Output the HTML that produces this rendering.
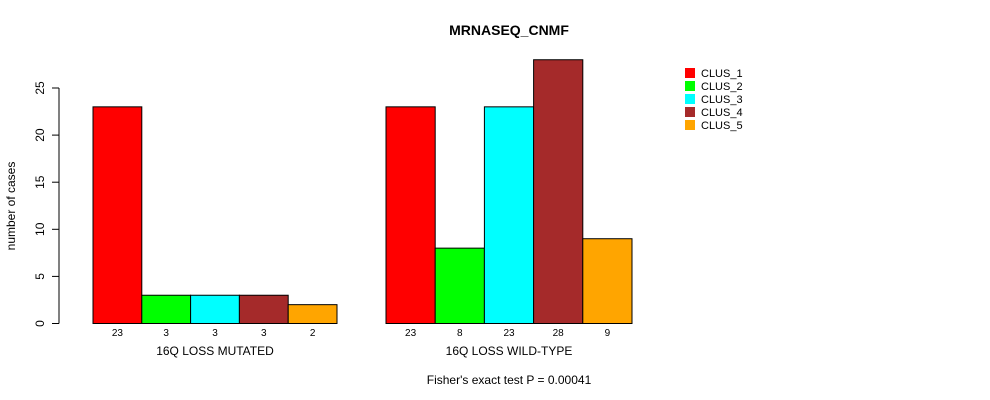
<!DOCTYPE html>
<html><head><meta charset="utf-8"><style>
body{margin:0;background:#fff}
svg{display:block;font-family:"Liberation Sans",sans-serif}
</style></head><body>
<svg id="chart" width="990" height="400" xmlns="http://www.w3.org/2000/svg">
<text x="509" y="35" font-size="14" font-weight="bold" text-anchor="middle">MRNASEQ_CNMF</text>
<text transform="translate(15,206) rotate(-90)" font-size="12" text-anchor="middle">number of cases</text>
<text x="509" y="384" font-size="12" text-anchor="middle">Fisher's exact test P = 0.00041</text>
<g id="axis"></g><g id="bars"></g><g id="legend"></g>
</svg>
<script>
const groups=["16Q LOSS MUTATED","16Q LOSS WILD-TYPE"];
const series=["CLUS_1","CLUS_2","CLUS_3","CLUS_4","CLUS_5"];
const colors=["#ff0000","#00ff00","#00ffff","#a52a2a","#ffa500"];
const valuesMutated=[23,3,3,3,2];
const valuesWild=[23,8,23,28,9];
const yTicks=[0,5,10,15,20,25];
const NS="http://www.w3.org/2000/svg";
const y0=323.5,ppu=(323.5-88)/25;
const yScale=v=>y0-v*ppu;
const groupStart=[93,386],groupBw=[48.8,49.2];
function mk(tag,attrs,parent){const e=document.createElementNS(NS,tag);for(const k in attrs)e.setAttribute(k,attrs[k]);parent.appendChild(e);return e;}
const ax=document.getElementById('axis');
const yl=mk('line',{x1:59,x2:59,y1:yScale(0),y2:yScale(25),stroke:'#000'},ax);


yTicks.forEach(t=>{
 const l=mk('line',{x1:52,x2:59,y1:yScale(t),y2:yScale(t),stroke:'#000'},ax);
 
 
 const tx=mk('text',{transform:`translate(44,${yScale(t)}) rotate(-90)`,'font-size':12,'text-anchor':'middle'},ax);
 
 
 tx.textContent=t;
});
const bg=document.getElementById('bars');
[valuesMutated,valuesWild].forEach((vals,gi)=>{
 const bw=groupBw[gi];
 vals.forEach((v,i)=>{
  const x=groupStart[gi]+i*bw;
  const r=mk('rect',{x:x,y:yScale(v),width:bw,height:yScale(0)-yScale(v),fill:colors[i],stroke:'#000','stroke-width':1},bg);
  
  
  const t=mk('text',{x:x+bw/2,y:336,'font-size':10,'text-anchor':'middle'},bg);
  
  
  t.textContent=v;
 });
 const gl=mk('text',{x:groupStart[gi]+bw*2.5,y:355,'font-size':12,'text-anchor':'middle'},bg);
 
 
 gl.textContent=groups[gi];
});
const lg=document.getElementById('legend');
series.forEach((s,i)=>{
 const yy=68+i*13;
 const r=mk('rect',{x:685,y:yy,width:10,height:10,fill:colors[i]},lg);
 
 
 const t=mk('text',{x:701,y:yy+9,'font-size':11},lg);
 
 
 t.textContent=s;
});
</script>
</body></html>
